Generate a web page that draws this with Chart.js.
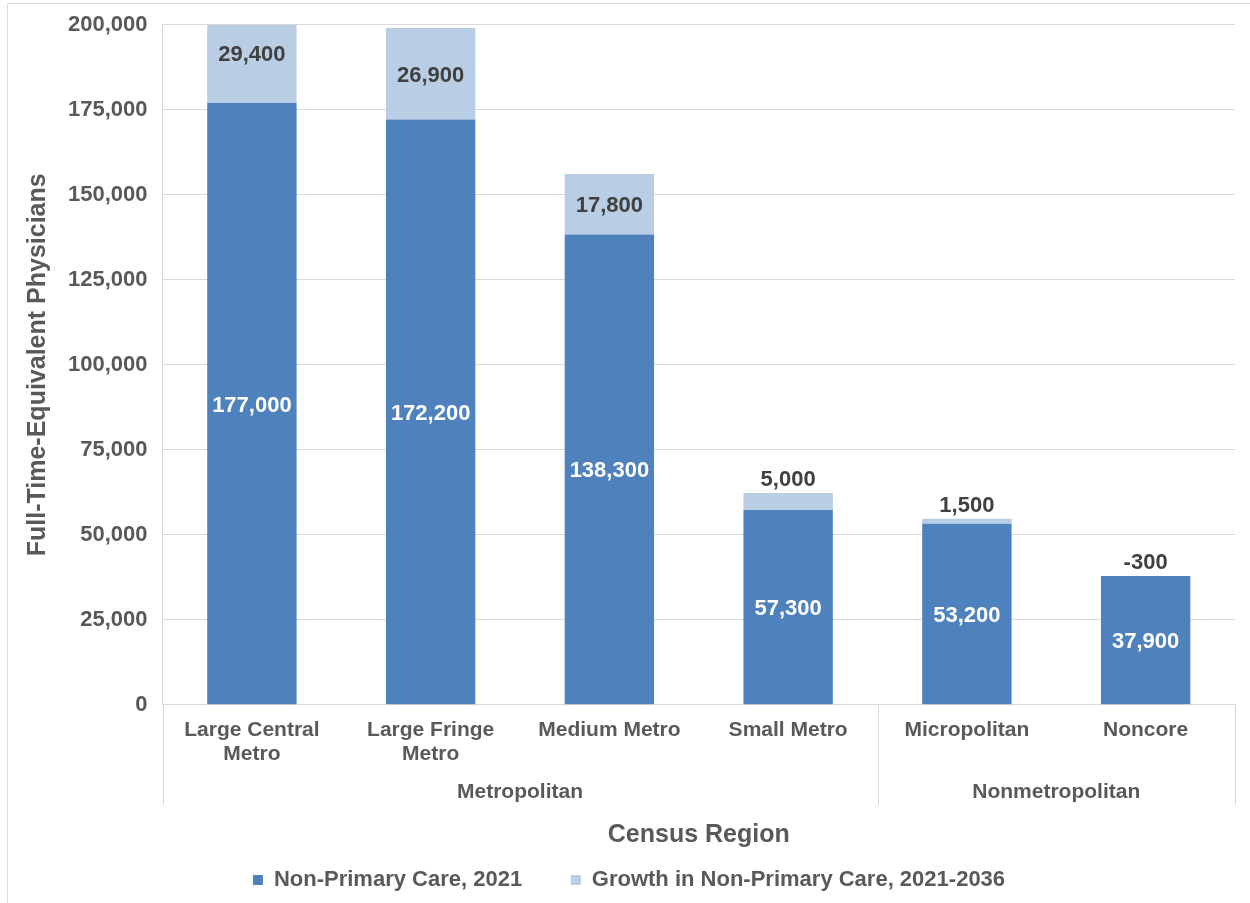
<!DOCTYPE html>
<html lang="en">
  <head>
    <meta charset="UTF-8" />
    <title>Non-Primary Care FTE Physicians by Census Region</title>
    <script src="https://cdn.jsdelivr.net/npm/chart.js@4.4.1/dist/chart.umd.min.js"></script>
    <style>
      html, body { margin: 0; padding: 0; background: #fff; }
      #wrap { position: relative; width: 1250px; height: 903px; }
    </style>
  </head>
  <body>
    <div id="wrap"><canvas id="chart1" width="1250" height="903"></canvas></div>
    <script>
      const categories = [
        ["Large Central", "Metro"],
        ["Large Fringe", "Metro"],
        "Medium Metro",
        "Small Metro",
        "Micropolitan",
        "Noncore",
      ];
      const groups = ["Metropolitan", "Nonmetropolitan"];
      const groupSizes = [4, 2];
      const base2021 = [177000, 172200, 138300, 57300, 53200, 37900];
      const growth = [29400, 26900, 17800, 5000, 1500, -300];
      const seriesNames = ["Non-Primary Care, 2021", "Growth in Non-Primary Care, 2021-2036"];

      const fontFamily = "'Liberation Sans', Arial, sans-serif";
      const gray = "#595959";
      const fmt = (v) => v.toLocaleString("en-US");

      // frame, value labels and the grouped category row
      const extras = {
        id: "extras",
        beforeDraw(chart) {
          const c = chart.ctx;
          c.save();
          c.strokeStyle = "#D9D9D9";
          c.lineWidth = 1;
          c.beginPath();
          c.moveTo(7.5, 903);
          c.lineTo(7.5, 3.5);
          c.lineTo(1250, 3.5);
          c.stroke();
          c.restore();
        },
        afterDraw(chart) {
          const c = chart.ctx;
          const area = chart.chartArea;
          const m0 = chart.getDatasetMeta(0);
          const m1 = chart.getDatasetMeta(1);
          c.save();
          c.textAlign = "center";
          c.textBaseline = "middle";
          c.font = "bold 22px " + fontFamily;
          m0.data.forEach((bar, i) => {
            c.fillStyle = "#FFFFFF";
            c.fillText(fmt(base2021[i]), bar.x, (bar.y + bar.base) / 2 + 2);
          });
          m1.data.forEach((bar, i) => {
            const h = Math.abs(bar.base - bar.y);
            c.fillStyle = "#404040";
            if (growth[i] > 0 && h > 30) {
              c.fillText(fmt(growth[i]), bar.x, (bar.y + bar.base) / 2 + 2);
            } else {
              const top = Math.min(bar.y, m0.data[i].y);
              c.fillText(fmt(growth[i]), bar.x, top - 13);
            }
          });
          // group separators and labels
          const step = (area.right - area.left) / categories.length;
          c.strokeStyle = "#D9D9D9";
          c.lineWidth = 1;
          let idx = 0;
          const edges = [area.left];
          groupSizes.forEach((n) => { idx += n; edges.push(area.left + idx * step); });
          edges.forEach((ex) => {
            const xx = Math.round(ex) + 0.5;
            c.beginPath();
            c.moveTo(xx, area.bottom);
            c.lineTo(xx, 805);
            c.stroke();
          });
          c.fillStyle = gray;
          c.font = "bold 21px " + fontFamily;
          groups.forEach((g, i) => {
            c.fillText(g, (edges[i] + edges[i + 1]) / 2, 792);
          });
          c.restore();
        },
      };

      new Chart(document.getElementById("chart1"), {
        type: "bar",
        data: {
          labels: categories,
          datasets: [
            { label: seriesNames[0], data: base2021, backgroundColor: "#4F81BD", barPercentage: 0.5, categoryPercentage: 1 },
            { label: seriesNames[1], data: growth, backgroundColor: "#B9CDE5", barPercentage: 0.5, categoryPercentage: 1 },
          ],
        },
        options: {
          responsive: false,
          animation: false,
          layout: { padding: { left: 23, right: 15, top: 12, bottom: 2 } },
          plugins: {
            tooltip: { enabled: false },
            legend: {
              position: "bottom",
              labels: {
                color: gray,
                font: { family: fontFamily, size: 22, weight: "bold" },
                boxWidth: 10,
                boxHeight: 10,
                padding: 12,
                generateLabels(chart) {
                  const items = Chart.defaults.plugins.legend.labels.generateLabels(chart);
                  items[0].text = items[0].text + "      ";
                  return items;
                },
              },
            },
          },
          scales: {
            x: {
              stacked: true,
              grid: { display: false, drawTicks: false },
              border: { color: "#D9D9D9" },
              ticks: {
                color: gray,
                padding: 13,
                maxRotation: 0,
                font: { family: fontFamily, size: 21, weight: "bold", lineHeight: 1.15 },
              },
              title: {
                display: true,
                text: "Census Region",
                color: gray,
                font: { family: fontFamily, size: 25, weight: "bold" },
                padding: { top: 41, bottom: 7 },
              },
            },
            y: {
              stacked: true,
              min: 0,
              max: 200000,
              grid: { color: "#D9D9D9", drawTicks: false },
              border: { color: "#D9D9D9" },
              ticks: {
                stepSize: 25000,
                color: gray,
                padding: 15,
                font: { family: fontFamily, size: 22, weight: "bold", lineHeight: 0.9 },
                callback: (v) => fmt(v),
              },
              title: {
                display: true,
                text: "Full-Time-Equivalent Physicians",
                color: gray,
                font: { family: fontFamily, size: 25, weight: "bold" },
                padding: { top: 0, bottom: 0 },
              },
            },
          },
        },
        plugins: [extras],
      });
    </script>
  </body>
</html>
